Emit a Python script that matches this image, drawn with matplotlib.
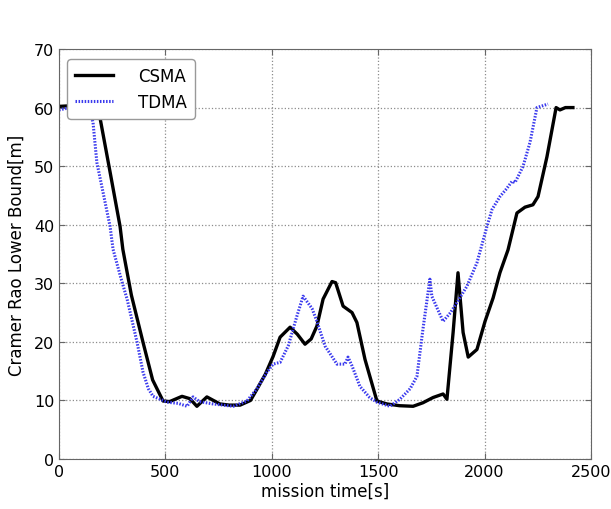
import matplotlib
matplotlib.use("Agg")
import matplotlib.pyplot as plt

# CSMA curve
csma_t = [0, 50, 100, 150, 178, 193, 240, 287, 300, 340, 395, 440, 489, 520, 578,
          615, 648, 695, 756, 800, 851, 900, 930, 970, 1006, 1039, 1086, 1120, 1156,
          1185, 1212, 1241, 1283, 1300, 1335, 1377, 1400, 1438, 1494, 1541, 1600, 1664,
          1710, 1758, 1805, 1823, 1852, 1875, 1899, 1923, 1964, 2002, 2040, 2072,
          2110, 2152, 2190, 2227, 2251, 2293, 2336, 2354, 2380, 2415]
csma_y = [60.2, 60.3, 60.2, 60.0, 59.3, 58.2, 49.0, 39.7, 35.8, 28.0, 19.9, 13.5, 9.9, 9.8, 10.7,
          10.3, 9.0, 10.6, 9.4, 9.2, 9.2, 10.0, 11.9, 14.5, 17.5, 20.8, 22.5, 21.3, 19.6,
          20.5, 22.7, 27.3, 30.3, 30.1, 26.1, 25.0, 23.3, 17.0, 9.9, 9.4, 9.1, 9.0,
          9.6, 10.5, 11.1, 10.2, 21.6, 31.8, 21.6, 17.4, 18.7, 23.5, 27.5, 31.8,
          35.7, 42.0, 43.0, 43.4, 44.8, 51.6, 60.0, 59.6, 60.0, 60.0]

# TDMA curve
tdma_t = [0, 40, 85, 113, 146, 160, 178, 210, 240, 254, 290, 320, 367, 395, 420, 442,
          508, 560, 602, 630, 660, 724, 818, 883, 930, 977, 1006, 1039, 1077, 1118,
          1147, 1189, 1212, 1250, 1306, 1344, 1358, 1377, 1414, 1460, 1494, 1555, 1602,
          1650, 1682, 1710, 1743, 1752, 1780, 1805, 1840, 1870, 1917, 1964, 2011, 2035,
          2072, 2100, 2129, 2143, 2180, 2213, 2246, 2298]
tdma_y = [59.6, 59.9, 60.1, 60.3, 59.6, 57.4, 50.6, 45.0, 39.7, 35.8, 31.0, 27.3, 19.9, 14.8, 12.0, 10.7,
          9.7, 9.5, 9.0, 10.6, 9.8, 9.4, 9.0, 9.9, 12.0, 14.8, 16.2, 16.5, 19.3, 24.4,
          27.8, 25.7, 23.5, 19.3, 16.2, 16.2, 17.4, 15.9, 12.4, 10.5, 9.7, 9.0, 10.2,
          12.0, 14.1, 22.1, 30.7, 27.8, 25.5, 23.5, 25.0, 26.7, 29.5, 33.5, 39.7, 42.6,
          44.8, 46.0, 47.4, 47.2, 49.9, 54.0, 60.0, 60.6]

fig = plt.figure(figsize=(6.11, 5.10), dpi=100)
ax = fig.add_axes([59 / 611, 50 / 510, 532 / 611, 410 / 510])

ax.plot(csma_t, csma_y, color="black", lw=2.4, label="CSMA",
        solid_joinstyle="round")
ax.plot(tdma_t, tdma_y, color="#3a3aee", lw=2.2, ls=(0, (0.5, 0.5)), label="TDMA")

ax.set_xlim(0, 2500)
ax.set_ylim(0, 70)
ax.set_xticks([0, 500, 1000, 1500, 2000, 2500])
ax.set_yticks(range(0, 71, 10))
ax.tick_params(direction="in", labelsize=11.5, length=4, top=True, right=True,
               color="0.4")
ax.grid(True, ls=":", color="0.55", lw=0.9)
ax.set_axisbelow(True)
for s in ax.spines.values():
    s.set_color("0.4")

ax.set_xlabel("mission time[s]", fontsize=12, labelpad=2)
ax.set_ylabel("Cramer Rao Lower Bound[m]", fontsize=12, labelpad=6)

ax.legend(loc="upper left", fontsize=12, handlelength=2.3, borderpad=0.45,
          labelspacing=0.5, handletextpad=1.5, fancybox=True, edgecolor="0.6",
          framealpha=1.0, bbox_to_anchor=(0.0, 0.995))

fig.savefig("out.png", dpi=100)
